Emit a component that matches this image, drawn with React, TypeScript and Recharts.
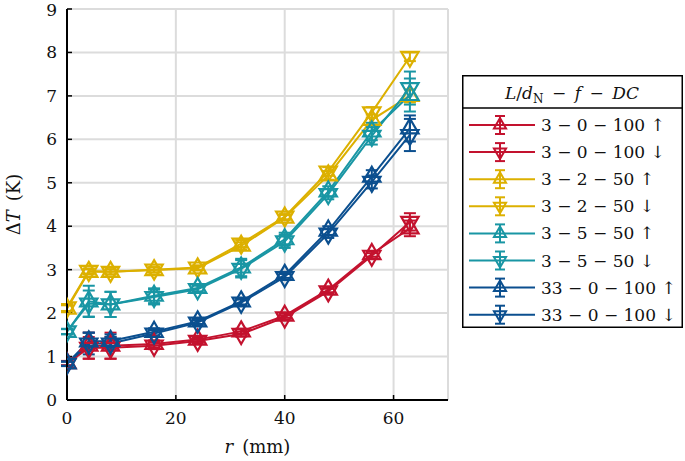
import React from 'react';
import { LineChart, Line, XAxis, YAxis, CartesianGrid, ErrorBar, Legend, Label } from 'recharts';

const rPositions = [0, 4, 8, 16, 24, 32, 40, 48, 56, 63];

const red100Up = [0.85, 1.25, 1.25, 1.29, 1.39, 1.58, 1.94, 2.54, 3.36, 3.95];
const red100Down = [0.84, 1.2, 1.2, 1.25, 1.36, 1.52, 1.9, 2.5, 3.32, 4.1];
const yel50Up = [2.1, 2.95, 2.95, 2.99, 3.03, 3.55, 4.2, 5.17, 6.45, 7.0];
const yel50Down = [2.13, 2.97, 2.95, 3.0, 3.05, 3.6, 4.22, 5.26, 6.62, 7.9];
const teal50Up = [1.57, 2.27, 2.2, 2.4, 2.58, 3.05, 3.7, 4.8, 6.18, 7.02];
const teal50Down = [1.58, 2.22, 2.2, 2.37, 2.55, 3.02, 3.65, 4.74, 6.08, 7.18];
const blue100Up = [0.84, 1.35, 1.36, 1.57, 1.81, 2.27, 2.88, 3.9, 5.14, 6.25];
const blue100Down = [0.83, 1.3, 1.3, 1.53, 1.78, 2.24, 2.83, 3.83, 5.02, 6.1];

const red100UpErr = [0.05, 0.3, 0.3, 0.08, 0.05, 0.06, 0.05, 0.06, 0.06, 0.18];
const red100DownErr = [0.05, 0.25, 0.25, 0.08, 0.05, 0.06, 0.05, 0.06, 0.06, 0.2];
const yel50UpErr = [0.08, 0.06, 0.06, 0.06, 0.05, 0.08, 0.06, 0.1, 0.12, 0.15];
const yel50DownErr = [0.08, 0.06, 0.06, 0.06, 0.05, 0.08, 0.06, 0.1, 0.12, 0.1];
const teal50UpErr = [0.06, 0.36, 0.29, 0.17, 0.08, 0.2, 0.15, 0.12, 0.2, 0.38];
const teal50DownErr = [0.06, 0.3, 0.29, 0.17, 0.08, 0.2, 0.15, 0.12, 0.2, 0.38];
const blue100UpErr = [0.05, 0.2, 0.15, 0.08, 0.06, 0.07, 0.07, 0.1, 0.15, 0.3];
const blue100DownErr = [0.05, 0.25, 0.15, 0.08, 0.06, 0.07, 0.07, 0.1, 0.15, 0.37];

const xTicks = [0, 20, 40, 60];
const yTicks = [0, 1, 2, 3, 4, 5, 6, 7, 8, 9];

const RED = '#c3122e';
const YEL = '#dcb000';
const TEAL = '#1996a4';
const BLUE = '#0b4f8f';

const seriesDefs = [
  { key: 's0', label: '3 \u2212 0 \u2212 100', dir: 'up', color: RED, vals: red100Up, errs: red100UpErr },
  { key: 's1', label: '3 \u2212 0 \u2212 100', dir: 'down', color: RED, vals: red100Down, errs: red100DownErr },
  { key: 's2', label: '3 \u2212 2 \u2212 50', dir: 'up', color: YEL, vals: yel50Up, errs: yel50UpErr },
  { key: 's3', label: '3 \u2212 2 \u2212 50', dir: 'down', color: YEL, vals: yel50Down, errs: yel50DownErr },
  { key: 's4', label: '3 \u2212 5 \u2212 50', dir: 'up', color: TEAL, vals: teal50Up, errs: teal50UpErr },
  { key: 's5', label: '3 \u2212 5 \u2212 50', dir: 'down', color: TEAL, vals: teal50Down, errs: teal50DownErr },
  { key: 's6', label: '33 \u2212 0 \u2212 100', dir: 'up', color: BLUE, vals: blue100Up, errs: blue100UpErr },
  { key: 's7', label: '33 \u2212 0 \u2212 100', dir: 'down', color: BLUE, vals: blue100Down, errs: blue100DownErr },
];

const data = rPositions.map((r, i) => {
  const row: Record<string, number> = { r };
  seriesDefs.forEach((s) => {
    row[s.key] = s.vals[i];
    row[s.key + 'e'] = s.errs[i];
  });
  return row;
});

const FONT = 'DejaVu Serif';
const FS = 17;

function triPath(cx: number, cy: number, dir: string, r = 10) {
  const h = r * 0.5;
  const w = r * 0.866;
  if (dir === 'up') {
    return `M${cx},${cy - r} L${cx + w},${cy + h} L${cx - w},${cy + h} Z`;
  }
  return `M${cx},${cy + r} L${cx + w},${cy - h} L${cx - w},${cy - h} Z`;
}

const makeDot = (dir: string, color: string) => (props: any) => {
  const { cx, cy, index } = props;
  if (cx == null || cy == null) return <g key={index} />;
  return (
    <path key={index} d={triPath(cx, cy, dir)} fill="none" stroke={color} strokeWidth={2.2} strokeLinejoin="miter" />
  );
};

const LegendBox = () => {
  const W = 221;
  const H = 253;
  return (
    <svg width={W} height={H} style={{ display: 'block', fontFamily: FONT }}>
      <rect x={0.75} y={0.75} width={W - 1.5} height={H - 1.5} fill="#fff" stroke="#000" strokeWidth={1.5} />
      <text x={110} y={24} textAnchor="middle" fontSize={FS} fill="#111" style={{ fontFamily: FONT }}>
        <tspan fontStyle="italic">L</tspan>
        <tspan>/</tspan>
        <tspan fontStyle="italic">d</tspan>
        <tspan fontSize={12} dy={4}>N</tspan>
        <tspan dy={-4}>{'\u2002\u2212\u2002'}</tspan>
        <tspan fontStyle="italic">f</tspan>
        <tspan>{'\u2002\u2212\u2002'}</tspan>
        <tspan fontStyle="italic">DC</tspan>
      </text>
      <line x1={0} x2={W} y1={33} y2={33} stroke="#000" strokeWidth={1.5} />
      {seriesDefs.map((s, i) => {
        const y = 50 + i * 27.1;
        const mx = 38;
        return (
          <g key={s.key}>
            <line x1={7} x2={73} y1={y} y2={y} stroke={s.color} strokeWidth={2} />
            <line x1={mx} x2={mx} y1={y - 9} y2={y + 9} stroke={s.color} strokeWidth={2} />
            <line x1={mx - 5} x2={mx + 5} y1={y - 9} y2={y - 9} stroke={s.color} strokeWidth={2} />
            <line x1={mx - 5} x2={mx + 5} y1={y + 9} y2={y + 9} stroke={s.color} strokeWidth={2} />
            <path d={triPath(mx, y, s.dir, 7)} fill="none" stroke={s.color} strokeWidth={2} />
            <text x={79} y={y + 6} fontSize={FS} fill="#111" style={{ fontFamily: FONT }}>
              {s.label + ' ' + (s.dir === 'up' ? '\u2191' : '\u2193')}
            </text>
          </g>
        );
      })}
    </svg>
  );
};

const YLabel = (props: any) => {
  const vb = props.viewBox || { x: 0, y: 9, height: 391 };
  const cy = vb.y + vb.height / 2;
  const cx = 13;
  return (
    <text
      x={cx}
      y={cy}
      transform={`rotate(-90, ${cx}, ${cy})`}
      textAnchor="middle"
      dominantBaseline="central"
      fontSize={18}
      style={{ fontFamily: FONT }}
      fill="#111"
    >
      <tspan>{'\u0394'}</tspan>
      <tspan fontStyle="italic">T</tspan>
      <tspan>{'\u2002(K)'}</tspan>
    </text>
  );
};

const XLabel = (props: any) => {
  const vb = props.viewBox || { x: 67, width: 381, y: 400 };
  const cx = vb.x + vb.width / 2;
  return (
    <text x={cx} y={453} textAnchor="middle" fontSize={18} style={{ fontFamily: FONT }} fill="#111">
      <tspan fontStyle="italic">r</tspan>
      <tspan>{'\u2002(mm)'}</tspan>
    </text>
  );
};

const tickStyle = { fill: '#111', fontSize: FS, fontFamily: FONT, style: { fontFamily: FONT } };

export default function App() {
  return (
    <div style={{ position: 'fixed', left: 0, top: 0, width: 685, height: 461, background: '#fff', fontFamily: FONT }}>
      <LineChart
        width={685}
        height={461}
        data={data}
        margin={{ top: 9, right: 237, bottom: 0, left: 0 }}
        style={{ fontFamily: FONT }}
      >
        <CartesianGrid stroke="#dcdcdc" strokeWidth={2} />
        <XAxis
          dataKey="r"
          type="number"
          domain={[0, 70]}
          ticks={xTicks}
          allowDataOverflow
          height={61}
          axisLine={{ stroke: '#000', strokeWidth: 2 }}
          tickLine={{ stroke: '#000', strokeWidth: 1.5 }}
          tickSize={-5}
          tickMargin={17}
          tick={tickStyle}
        >
          <Label content={<XLabel />} />
        </XAxis>
        <XAxis
          xAxisId="top"
          orientation="top"
          dataKey="r"
          type="number"
          domain={[0, 70]}
          ticks={xTicks}
          height={0}
          axisLine={{ stroke: '#000', strokeWidth: 2 }}
          tickLine={{ stroke: '#000', strokeWidth: 1.5 }}
          tickSize={-5}
          tickFormatter={() => ''}
        />
        <YAxis
          type="number"
          domain={[0, 9]}
          ticks={yTicks}
          allowDataOverflow
          width={67}
          axisLine={{ stroke: '#000', strokeWidth: 2 }}
          tickLine={{ stroke: '#000', strokeWidth: 1.5 }}
          tickSize={-5}
          tickMargin={15}
          tick={tickStyle}
        >
          <Label content={<YLabel />} />
        </YAxis>
        <YAxis
          yAxisId="right"
          orientation="right"
          type="number"
          domain={[0, 9]}
          ticks={yTicks}
          width={0}
          axisLine={{ stroke: '#000', strokeWidth: 2 }}
          tickLine={{ stroke: '#000', strokeWidth: 1.5 }}
          tickSize={-5}
          tickFormatter={() => ''}
        />
        {seriesDefs.map((s) => (
          <Line
            key={s.key}
            dataKey={s.key}
            stroke={s.color}
            strokeWidth={2}
            type="linear"
            isAnimationActive={false}
            dot={makeDot(s.dir, s.color)}
            activeDot={false}
            legendType="none"
          >
            <ErrorBar dataKey={s.key + 'e'} width={6} strokeWidth={2} stroke={s.color} direction="y" />
          </Line>
        ))}
        <Legend
          layout="horizontal"
          verticalAlign="middle"
          align="center"
          content={<LegendBox />}
          wrapperStyle={{ position: 'absolute', left: 462, top: 75, width: 221, height: 253 }}
        />
      </LineChart>
    </div>
  );
}
